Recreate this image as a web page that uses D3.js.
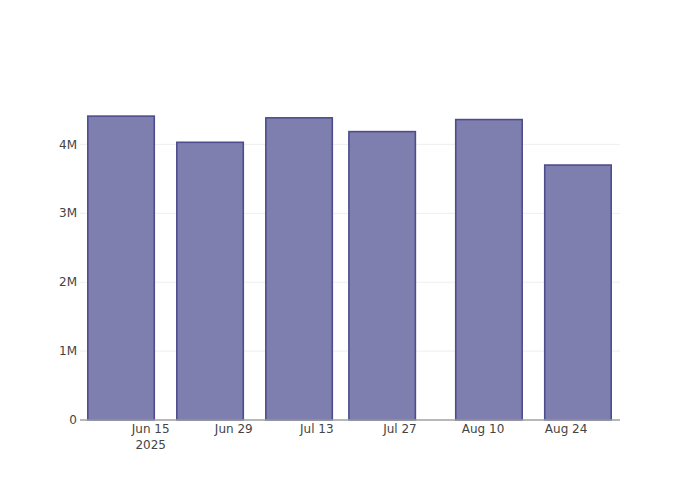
<!DOCTYPE html>
<html>
<head>
<meta charset="utf-8">
<script src="https://cdn.jsdelivr.net/npm/d3@7"></script>
<style>
  html, body { margin: 0; padding: 0; background: #fff; }
  svg { display: block; }
  text { font-family: "DejaVu Sans", Verdana, sans-serif; }
</style>
</head>
<body>
<div id="chart"></div>
<script>
// Data
const dates = ["2025-06-10", "2025-06-25", "2025-07-10", "2025-07-24", "2025-08-11", "2025-08-26"];
const values = [4410000, 4030000, 4385000, 4185000, 4360000, 3700000];
const xTickDates = ["2025-06-15", "2025-06-29", "2025-07-13", "2025-07-27", "2025-08-10", "2025-08-24"];
const xTickLabels = ["Jun 15", "Jun 29", "Jul 13", "Jul 27", "Aug 10", "Aug 24"];
const yTicks = [0, 1000000, 2000000, 3000000, 4000000];
const yTickLabels = ["0", "1M", "2M", "3M", "4M"];

const W = 700, H = 500;
const m = { l: 80, r: 80, t: 100, b: 80 };
const parse = d3.utcParse("%Y-%m-%d");
const DAY = 86400000;

const svg = d3.select("#chart").append("svg").attr("width", W).attr("height", H);

const x = d3.scaleUtc()
  .domain([new Date(Date.UTC(2025, 5, 3, 2)), new Date(Date.UTC(2025, 8, 2, 2))])
  .range([m.l, W - m.r]);
const y = d3.scaleLinear().domain([0, 4644000]).range([H - m.b, m.t]);

// Gridlines
svg.append("g").selectAll("line").data(yTicks.slice(1)).join("line")
  .attr("x1", m.l).attr("x2", W - m.r)
  .attr("y1", d => y(d)).attr("y2", d => y(d))
  .attr("stroke", "#eeeeee").attr("stroke-width", 1);

// Bars
const barW = 0.8 * 14 * DAY;
svg.append("g").selectAll("rect").data(dates.map((d, i) => ({ d: parse(d), v: values[i] }))).join("rect")
  .attr("x", d => x(new Date(+d.d - barW / 2)))
  .attr("width", d => x(new Date(+d.d + barW / 2)) - x(new Date(+d.d - barW / 2)))
  .attr("y", d => y(d.v))
  .attr("height", d => y(0) - y(d.v))
  .attr("fill", "#7f7faf")
  .attr("stroke", "#4d4d8d")
  .attr("stroke-width", 1.6);

// X axis line
svg.append("line").attr("x1", m.l).attr("x2", W - m.r)
  .attr("y1", y(0)).attr("y2", y(0))
  .attr("stroke", "#a0a0a0").attr("stroke-width", 1.3);

// Y axis labels
svg.append("g").selectAll("text").data(yTicks).join("text")
  .attr("x", m.l - 3).attr("y", d => y(d)).attr("dy", "0.35em")
  .attr("text-anchor", "end").attr("font-size", 12).attr("fill", "#444")
  .text((d, i) => yTickLabels[i]);

// X axis labels
const xg = svg.append("g");
xTickDates.forEach((d, i) => {
  const t = xg.append("text")
    .attr("x", x(parse(d))).attr("y", 433)
    .attr("text-anchor", "middle").attr("font-size", 12).attr("fill", "#444")
    .text(xTickLabels[i]);
  if (i === 0) {
    xg.append("text").attr("x", x(parse(d))).attr("y", 448.5)
      .attr("text-anchor", "middle").attr("font-size", 12).attr("fill", "#444")
      .text("2025");
  }
});
</script>
</body>
</html>
